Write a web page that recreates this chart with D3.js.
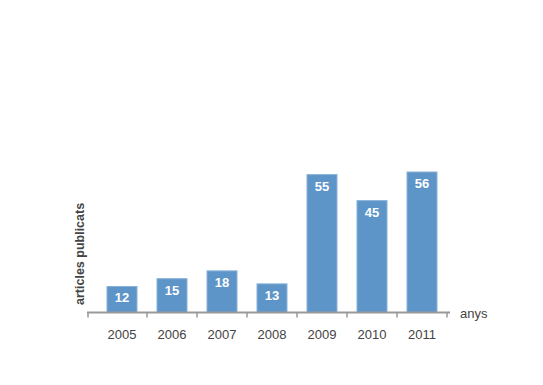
<!DOCTYPE html>
<html lang="ca">
<head>
    <meta charset="UTF-8">
    <title>Articles publicats</title>
    <script src="https://d3js.org/d3.v7.min.js"></script>
    <style>
        body { margin: 0; background: #fff; }
        svg { font-family: "Liberation Sans", Arial, sans-serif; }
        .bar { fill: #5e95c9; stroke: #8ab2d9; stroke-width: 1; }
        .bar-label { fill: #fff; font-size: 13px; font-weight: bold; text-anchor: middle; }
        .tick-label { fill: #444; font-size: 13px; text-anchor: middle; }
        .axis-line { stroke: #999; stroke-width: 2; }
        .tick-mark { stroke: #999; stroke-width: 1.5; }
    </style>
</head>
<body>
<svg width="543" height="385"></svg>
<script>
    // Data
    const years = ['2005', '2006', '2007', '2008', '2009', '2010', '2011'];
    const articles = [12, 15, 18, 13, 55, 45, 56];

    const svg = d3.select("svg");
    const baseY = 312.5;

    const x = d3.scaleBand()
        .domain(years)
        .range([97, 447])
        .paddingInner(0.38)
        .paddingOuter(0.19);

    // the original bars do not start from zero
    const y = d3.scaleLinear()
        .domain([2, 56])
        .range([baseY, 172]);

    // Bars
    svg.selectAll(".bar")
        .data(years)
        .enter().append("rect")
        .attr("class", "bar")
        .attr("x", (d) => x(d) + 0.5)
        .attr("y", (d, i) => y(articles[i]))
        .attr("width", x.bandwidth() - 1)
        .attr("height", (d, i) => baseY - y(articles[i]));

    // Values inside the bars
    svg.selectAll(".bar-label")
        .data(years)
        .enter().append("text")
        .attr("class", "bar-label")
        .attr("x", (d) => x(d) + x.bandwidth() / 2)
        .attr("y", (d, i) => y(articles[i]) + 16)
        .text((d, i) => articles[i]);

    // X axis line with ticks at the band edges
    svg.append("line")
        .attr("class", "axis-line")
        .attr("x1", 87).attr("x2", 450)
        .attr("y1", baseY).attr("y2", baseY);

    const edges = [88].concat(years.map((d) => x(d) + x.bandwidth() + x.step() * x.paddingInner() / 2));
    svg.selectAll(".tick-mark")
        .data(edges)
        .enter().append("line")
        .attr("class", "tick-mark")
        .attr("x1", (d) => d).attr("x2", (d) => d)
        .attr("y1", baseY).attr("y2", baseY + 5);

    svg.selectAll(".tick-label")
        .data(years)
        .enter().append("text")
        .attr("class", "tick-label")
        .attr("x", (d) => x(d) + x.bandwidth() / 2)
        .attr("y", 339)
        .text((d) => d);

    // Axis titles
    svg.append("text")
        .attr("x", 460)
        .attr("y", 318)
        .attr("fill", "#444")
        .style("font-size", "13px")
        .text("anys");

    svg.append("text")
        .attr("transform", "translate(84,305) rotate(-90)")
        .attr("fill", "#444")
        .style("font-size", "12.5px")
        .style("font-weight", "bold")
        .text("articles publicats");
</script>
</body>
</html>
